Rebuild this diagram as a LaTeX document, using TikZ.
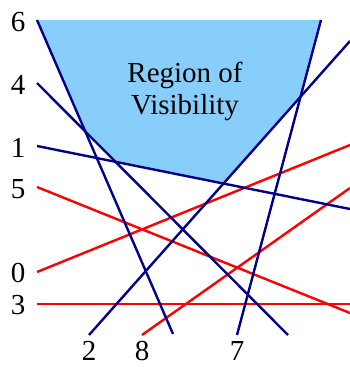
\documentclass[tikz,border=0pt]{standalone}
\usepackage{fontspec}
\setmainfont{Liberation Serif}
\begin{document}
\begin{tikzpicture}[x=1pt,y=-1pt,font=\fontsize{29}{32}\selectfont,
  blueline/.style={line width=2.4pt,draw={rgb,255:red,0;green,0;blue,140}},
  redline/.style={line width=2.4pt,draw=red},
  region/.style={fill={rgb,255:red,135;green,206;blue,250}},
  lbl/.style={inner sep=0pt,anchor=center}]
\useasboundingbox (0,0) rectangle (350,367);
% end points of the lines
\coordinate (l6a) at (37,20);   \coordinate (l6b) at (173,334);
\coordinate (l4a) at (37,83);   \coordinate (l4b) at (288,335);
\coordinate (l1a) at (37,146);  \coordinate (l1b) at (350,209);
\coordinate (l5a) at (37,187);  \coordinate (l5b) at (350,313);
\coordinate (l0a) at (37,272);  \coordinate (l0b) at (350,145);
\coordinate (l3a) at (37,304);  \coordinate (l3b) at (350,304);
\coordinate (l2a) at (89,335);  \coordinate (l2b) at (350,41);
\coordinate (l8a) at (142,335); \coordinate (l8b) at (350,188);
\coordinate (l7a) at (237,335); \coordinate (l7b) at (321,20);
% region of visibility
\fill[region] (l6a) -- (intersection of l6a--l6b and l4a--l4b)
  -- (intersection of l4a--l4b and l1a--l1b)
  -- (intersection of l1a--l1b and l2a--l2b)
  -- (intersection of l2a--l2b and l7a--l7b) -- (l7b) -- cycle;
\node[align=center,lbl] (title) at (185,91) {Region of\\Visibility};
% red lines
\draw[redline] (l5a) -- (l5b);
\draw[redline] (l0a) -- (l0b);
\draw[redline] (l3a) -- (l3b);
\draw[redline] (l8a) -- (l8b);
% blue lines
\draw[blueline] (l6a) -- (l6b);
\draw[blueline] (l4a) -- (l4b);
\draw[blueline] (l1a) -- (l1b);
\draw[blueline] (l2a) -- (l2b);
\draw[blueline] (l7a) -- (l7b);
% labels
\node[lbl] (n6) at (18,22) {6};
\node[lbl] (n4) at (18,85) {4};
\node[lbl] (n1) at (18,148) {1};
\node[lbl] (n5) at (18,189) {5};
\node[lbl] (n0) at (18,273) {0};
\node[lbl] (n3) at (18,305) {3};
\node[lbl] (n2) at (89,351) {2};
\node[lbl] (n8) at (142,351) {8};
\node[lbl] (n7) at (237,351) {7};
\end{tikzpicture}
\end{document}
